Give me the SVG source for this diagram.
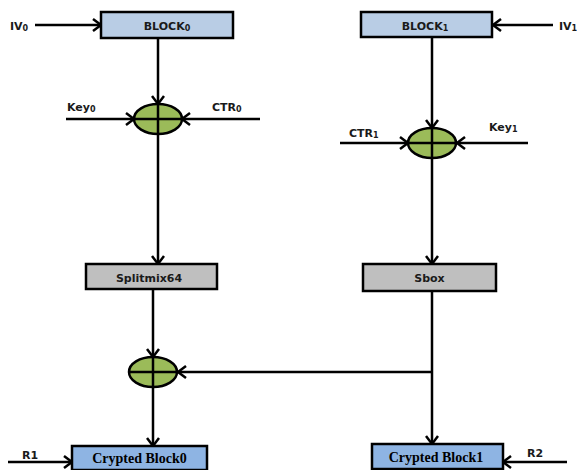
<svg xmlns="http://www.w3.org/2000/svg" width="577" height="470" viewBox="0 0 577 470">
<defs>
<marker id="arr" markerUnits="userSpaceOnUse" markerWidth="12" markerHeight="14" refX="9" refY="6" orient="auto" overflow="visible">
<path d="M1,0 L9,6 L1,12" fill="none" stroke="#000" stroke-width="2.5"/>
</marker>
<style>
.box{stroke:#000;stroke-width:2.5}
.top{fill:#B9CDE5}
.grey{fill:#BFBFBF}
.out{fill:#8EB4E3}
.xor{fill:#9BBB59;stroke:#000;stroke-width:2.5}
.cross{stroke:#000;stroke-width:2.5}
.lbl{font-family:"DejaVu Sans",Verdana,sans-serif;font-weight:bold;font-size:11px;fill:#1a1a1a}
.sub{font-size:8px}
.ser{font-family:"Liberation Serif","Times New Roman",serif;font-weight:bold;font-size:14px;fill:#000}
.c{stroke:#000;stroke-width:2.5;fill:none;marker-end:url(#arr)}
</style>
</defs>
<rect width="577" height="470" fill="#fff"/>

<g id="connectors">
<line class="c" x1="35" y1="25" x2="101" y2="25"/>
<line class="c" x1="158" y1="38" x2="158" y2="104"/>
<line class="c" x1="66" y1="119" x2="134" y2="119"/>
<line class="c" x1="260" y1="119" x2="182" y2="119"/>
<line class="c" x1="158" y1="134" x2="158" y2="264"/>
<line class="c" x1="153" y1="289" x2="153" y2="357"/>
<line class="c" x1="153" y1="387" x2="153" y2="446"/>
<line class="c" x1="8" y1="462" x2="72" y2="462"/>
<line class="c" x1="553" y1="25" x2="493" y2="25"/>
<line class="c" x1="432" y1="37" x2="432" y2="128"/>
<line class="c" x1="340" y1="143" x2="408" y2="143"/>
<line class="c" x1="528" y1="143" x2="457" y2="143"/>
<line class="c" x1="432" y1="158" x2="432" y2="264"/>
<line class="c" x1="432" y1="291" x2="432" y2="444"/>
<line class="c" x1="432" y1="372" x2="178" y2="372"/>
<line class="c" x1="567" y1="462" x2="503" y2="462"/>
</g>

<g id="iv0"><text class="lbl" x="10" y="30">IV<tspan class="sub" dy="1">0</tspan></text></g>
<g id="block0">
<rect class="box top" x="101" y="12" width="132" height="26"/>
<text class="lbl" x="167" y="30" text-anchor="middle">BLOCK<tspan class="sub" dy="1">0</tspan></text>
</g>
<g id="key0"><text class="lbl" x="67" y="111">Key<tspan class="sub" dy="1">0</tspan></text></g>
<g id="ctr0"><text class="lbl" x="212" y="111">CTR<tspan class="sub" dy="1">0</tspan></text></g>
<g id="xor0">
<ellipse class="xor" cx="158" cy="119" rx="24" ry="15"/>
<line class="cross" x1="158" y1="104" x2="158" y2="134"/>
<line class="cross" x1="134" y1="119" x2="182" y2="119"/>
</g>

<g id="iv1"><text class="lbl" x="559" y="30">IV<tspan class="sub" dy="1">1</tspan></text></g>
<g id="block1">
<rect class="box top" x="361" y="12" width="131" height="25"/>
<text class="lbl" x="425" y="30" text-anchor="middle">BLOCK<tspan class="sub" dy="1">1</tspan></text>
</g>
<g id="ctr1"><text class="lbl" x="349" y="137">CTR<tspan class="sub" dy="1">1</tspan></text></g>
<g id="key1"><text class="lbl" x="489" y="131">Key<tspan class="sub" dy="1">1</tspan></text></g>
<g id="xor1">
<ellipse class="xor" cx="432" cy="143" rx="24" ry="15"/>
<line class="cross" x1="432" y1="128" x2="432" y2="158"/>
<line class="cross" x1="408" y1="143" x2="456" y2="143"/>
</g>

<g id="splitmix">
<rect class="box grey" x="86" y="264" width="131" height="25"/>
<text class="lbl" x="149" y="282" text-anchor="middle">Splitmix64</text>
</g>
<g id="sbox">
<rect class="box grey" x="363" y="264" width="133" height="27"/>
<text class="lbl" x="429.5" y="282" text-anchor="middle">Sbox</text>
</g>

<g id="xor2">
<ellipse class="xor" cx="153" cy="372" rx="24" ry="15"/>
<line class="cross" x1="153" y1="357" x2="153" y2="387"/>
<line class="cross" x1="129" y1="372" x2="177" y2="372"/>
</g>

<g id="r1"><text class="lbl" x="22" y="459">R1</text></g>
<g id="crypted0">
<rect class="box out" x="72" y="446" width="135" height="24"/>
<text class="ser" x="139.5" y="463" text-anchor="middle">Crypted Block0</text>
</g>
<g id="r2"><text class="lbl" x="527" y="457">R2</text></g>
<g id="crypted1">
<rect class="box out" x="372" y="444" width="131" height="25"/>
<text class="ser" x="436" y="462" text-anchor="middle">Crypted Block1</text>
</g>
</svg>
